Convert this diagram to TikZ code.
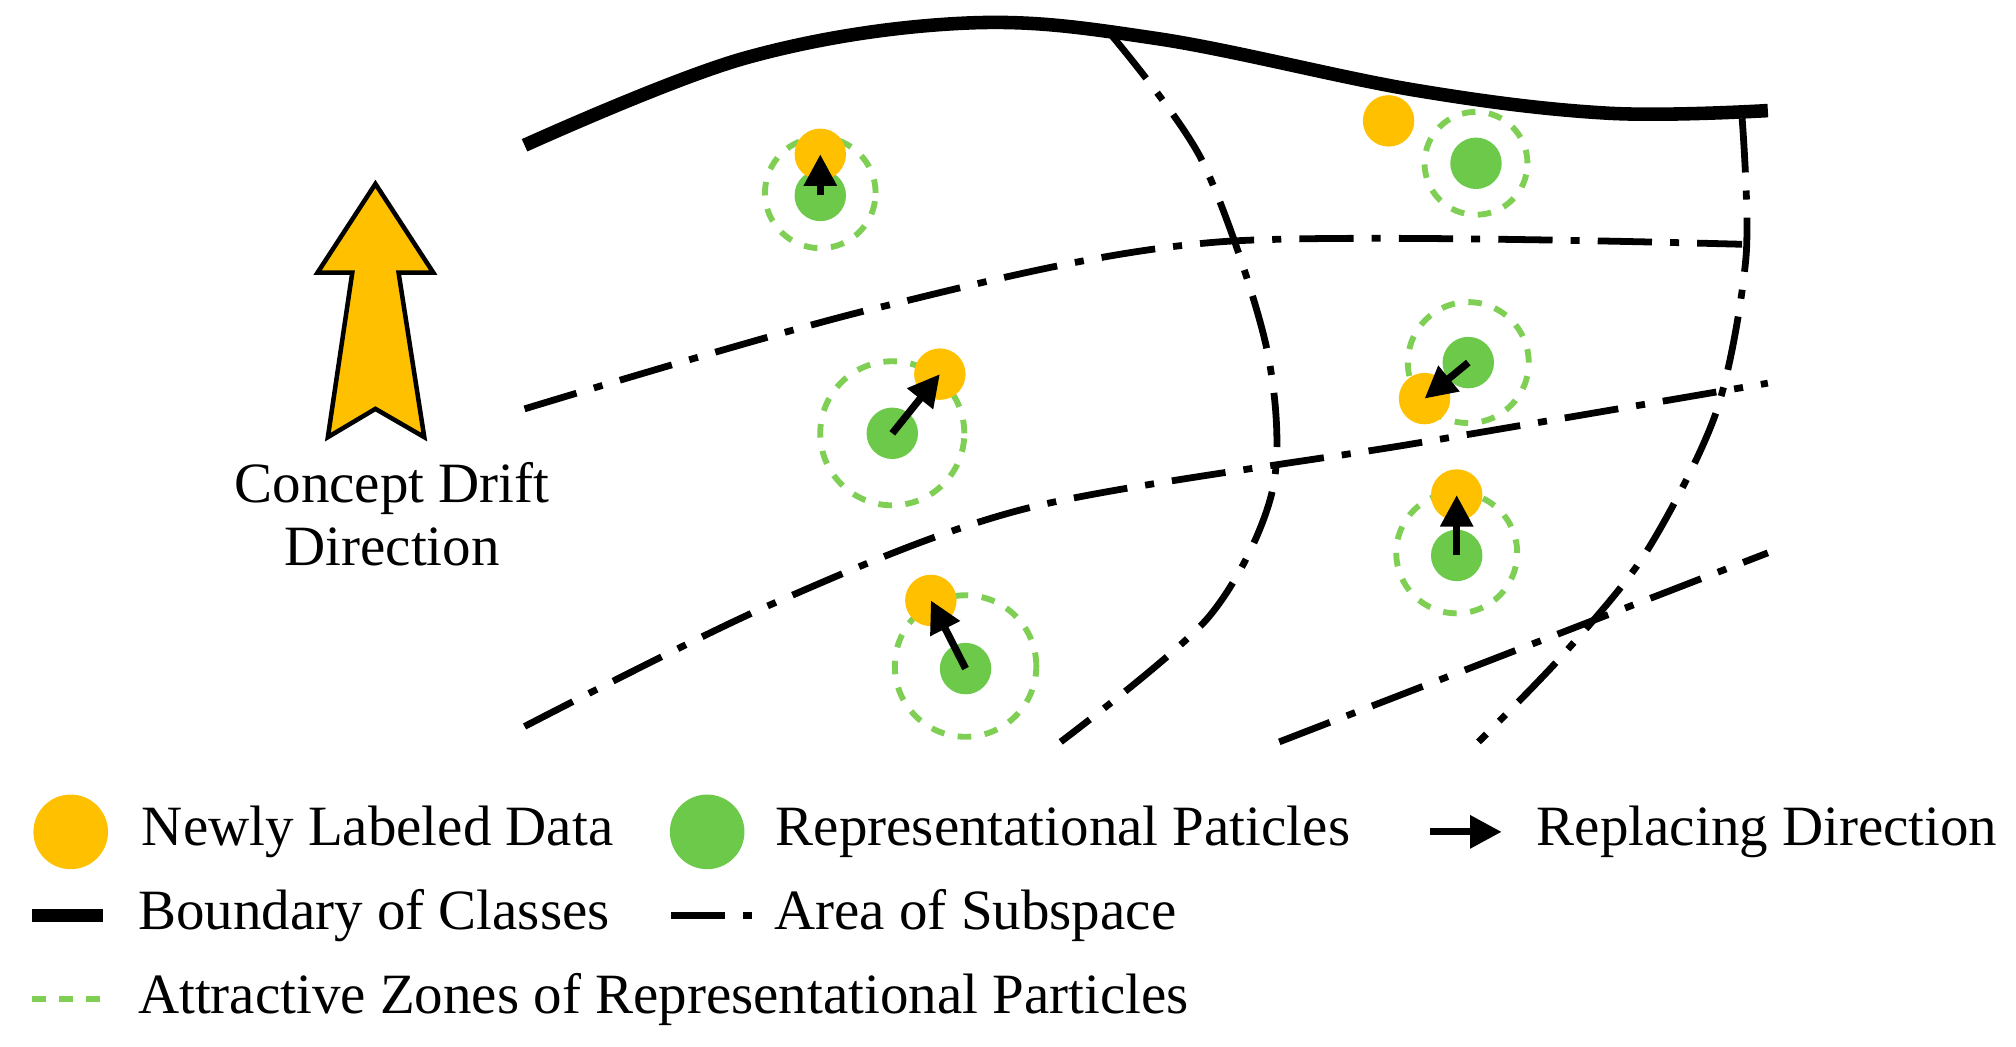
\documentclass[tikz,border=0pt]{standalone}
\usepackage{fontspec}
\setmainfont{Liberation Serif}
\usepackage{tikz}
\usetikzlibrary{arrows.meta, positioning, calc}
\definecolor{dataorange}{HTML}{FFC000}
\definecolor{partgreen}{HTML}{6CC94A}
\definecolor{zonegreen}{HTML}{7FCF55}

\begin{document}
\begin{tikzpicture}[x=0.01cm, y=-0.01cm,
    data/.style={circle, fill=dataorange, inner sep=0pt, minimum size=0.40cm},
    part/.style={circle, fill=partgreen, inner sep=0pt, minimum size=0.40cm},
    zone/.style={circle, draw=zonegreen, dashed, line width=1.3pt, inner sep=0pt},
    move/.style={-{Triangle[length=7pt, width=7pt]}, line width=1.6pt},
    boundary/.style={line width=3pt},
    subspace/.style={line width=1.5pt, dash pattern=on 12pt off 4pt on 2pt off 4pt},
    legtext/.style={font=\fontsize{12.6}{15}\selectfont, anchor=west},
]
\useasboundingbox (0,0) rectangle (1568,814);

% Boundary of classes
\draw[boundary] plot[smooth, tension=0.6] coordinates {(408,113) (580,45) (750,18) (900,30) (1100,70) (1250,88) (1375,86)};

% Subspace areas
\draw[subspace] plot[smooth] coordinates {(865,28) (935,125) (985,270) (990,380) (940,480) (825,577)};
\draw[subspace] plot[smooth] coordinates {(1355,92) (1358,200) (1335,320) (1280,430) (1215,510) (1150,577)};
\draw[subspace] plot[smooth] coordinates {(408,318) (680,240) (950,188) (1355,190)};
\draw[subspace] plot[smooth] coordinates {(408,565) (600,470) (800,395) (1100,345) (1375,298)};
\draw[subspace] (995,577) -- (1375,430);

% Concept drift arrow
\draw[fill=dataorange, line width=1pt] (255,340) -- (292,318) -- (330,340) -- (310,212) -- (337,212) -- (292,143) -- (247,212) -- (274,212) -- cycle;
\node[align=center, font=\fontsize{12.6}{14}\selectfont] (drift) at (305,400) {Concept Drift\\Direction};

% Particles
\node[zone, minimum size=0.86cm] (z1) at (638,150) {};
\node[part] (p1) at (638,152) {};
\node[data] (d1) at (638,120) {};
\node[zone, minimum size=1.12cm] (z2) at (694,337) {};
\node[part] (p2) at (694,337) {};
\node[data] (d2) at (731,291) {};
\node[zone, minimum size=1.1cm] (z3) at (751,518) {};
\node[part] (p3) at (751,520) {};
\node[data] (d3) at (724,467) {};
\node[zone, minimum size=0.8cm] (z4) at (1148,127) {};
\node[part] (p4) at (1148,127) {};
\node[data] (d4) at (1080,94) {};
\node[zone, minimum size=0.94cm] (z5) at (1142,282) {};
\node[part] (p5) at (1142,282) {};
\node[data] (d5) at (1108,310) {};
\node[zone, minimum size=0.94cm] (z6) at (1133,430) {};
\node[part] (p6) at (1133,432) {};
\node[data] (d6) at (1133,385) {};

\draw[move] (p1.center) -- (d1.center);
\draw[move] (p2.center) -- (d2.center);
\draw[move] (p3.center) -- (d3.center);
\draw[move] (p5.center) -- (d5.center);
\draw[move] (p6.center) -- (d6.center);

% Legend
\node[data, minimum size=0.58cm] (ld) at (55,647) {};
\node[legtext] (ldt) at (98,647) {Newly Labeled Data};
\node[part, minimum size=0.58cm] (lp) at (550,647) {};
\node[legtext] (lpt) at (591,647) {Representational Paticles};
\coordinate (la1) at (1112,647);
\coordinate (la2) at (1168,647);
\draw[move] (la1) -- (la2);
\node[legtext] (lat) at (1183,647) {Replacing Direction};
\coordinate (lb1) at (25,712);
\coordinate (lb2) at (80,712);
\draw[boundary] (lb1) -- (lb2);
\node[legtext] (lbt) at (95,712) {Boundary of Classes};
\coordinate (ls1) at (522,712);
\coordinate (ls2) at (585,712);
\draw[subspace] (ls1) -- (ls2);
\node[legtext] (lst) at (590,712) {Area of Subspace};
\coordinate (lz1) at (25,777);
\coordinate (lz2) at (80,777);
\draw[draw=zonegreen, dashed, line width=1.3pt] (lz1) -- (lz2);
\node[legtext] (lzt) at (95,777) {Attractive Zones of Representational Particles};

\end{tikzpicture}
\end{document}
